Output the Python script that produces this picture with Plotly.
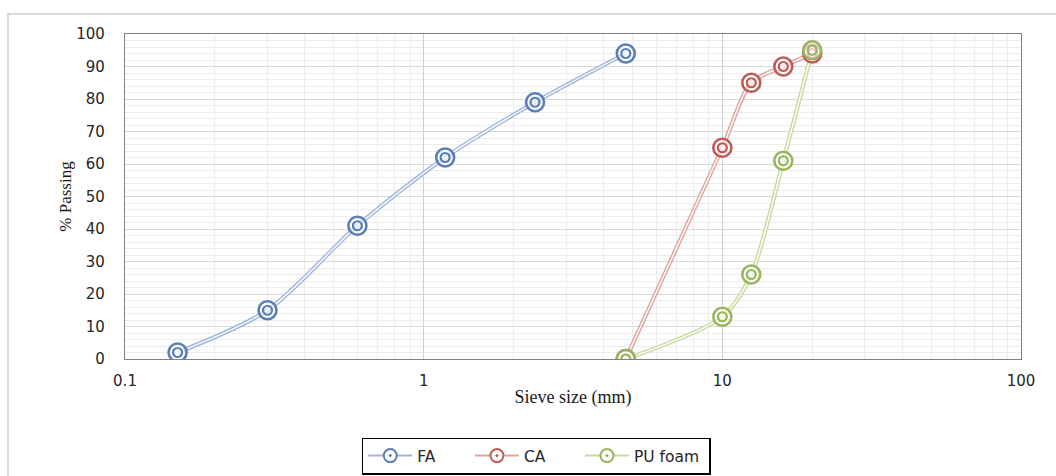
import plotly.graph_objects as go

# ---- data ----
fa_size = [0.15, 0.3, 0.6, 1.18, 2.36, 4.75]
fa_pass = [2, 15, 41, 62, 79, 94]
ca_size = [4.75, 10, 12.5, 16, 20]
ca_pass = [0, 65, 85, 90, 94]
pu_size = [4.75, 10, 12.5, 16, 20]
pu_pass = [0, 13, 26, 61, 95]

series_names = ["FA", "CA", "PU foam"]
line_colors = ["#9fb6db", "#e0a3a1", "#c6da9f"]
mark_colors = ["#5a7fb8", "#bf5a57", "#98b55c"]

W, H = 1056, 476
L, R, T, B = 125, 35, 34, 117
pw, ph = W - L - R, H - T - B

fig = go.Figure()
datasets = [(fa_size, fa_pass), (ca_size, ca_pass), (pu_size, pu_pass)]

for (xs, ys), lc, mc in zip(datasets, line_colors, mark_colors):
    fig.add_trace(go.Scatter(x=xs, y=ys, mode="lines", showlegend=False, hoverinfo="skip",
                             line=dict(color=lc, width=4.2, shape="spline", smoothing=0.8)))
    fig.add_trace(go.Scatter(x=xs, y=ys, mode="lines", showlegend=False, hoverinfo="skip",
                             line=dict(color="white", width=1.4, shape="spline", smoothing=0.8)))

for (xs, ys), mc in zip(datasets, mark_colors):
    fig.add_trace(go.Scatter(x=xs, y=ys, mode="markers", showlegend=False,
                             marker=dict(symbol="circle", size=18, color="rgba(255,255,255,0.6)",
                                         line=dict(color=mc, width=2.6))))
    fig.add_trace(go.Scatter(x=xs, y=ys, mode="markers", showlegend=False, hoverinfo="skip",
                             marker=dict(symbol="circle-open", size=9, color=mc,
                                         line=dict(color=mc, width=2.2))))

# legend entries
pad = "\u00a0" * 6
for i, (name, lc, mc) in enumerate(zip(series_names, line_colors, mark_colors)):
    label = name + (pad if i < len(series_names) - 1 else "\u00a0")
    fig.add_trace(go.Scatter(x=[None], y=[None], mode="lines+markers", name=label,
                             line=dict(color=lc, width=2),
                             marker=dict(symbol="circle-dot", size=13, color="white",
                                         line=dict(color=mc, width=2))))

# outer chart border
fig.add_shape(type="rect", xref="paper", yref="paper",
              x0=(8 - L) / pw, x1=(W + 20 - L) / pw,
              y0=(H - B - (H + 20)) / ph, y1=(H - B - 14) / ph,
              line=dict(color="#d9d9d9", width=2), fillcolor="rgba(0,0,0,0)", layer="below")

tickfont = dict(family="DejaVu Sans", size=15, color="#262626")
fig.update_layout(
    width=W, height=H,
    margin=dict(l=L, r=R, t=T, b=B, autoexpand=False),
    paper_bgcolor="white", plot_bgcolor="white",
    xaxis=dict(type="log", range=[-1, 2], automargin=False,
               tickvals=[0.1, 1, 10, 100], ticktext=["0.1", "1", "10", "100"],
               showgrid=True, gridcolor="#d0d0d0", gridwidth=1.3,
               minor=dict(showgrid=True, gridcolor="#ececec", gridwidth=1.3,
                          tickvals=[v * d for d in (0.1, 1, 10) for v in range(2, 10)]),
               showline=True, linecolor="#808080", linewidth=1.3, mirror=True,
               ticks="", tickfont=tickfont, ticklabelstandoff=8,
               title=dict(text="Sieve size (mm)", standoff=1,
                          font=dict(family="Liberation Serif", size=18, color="#1a1a1a")),
               zeroline=False),
    yaxis=dict(range=[0, 100], tickvals=list(range(0, 101, 10)), automargin=False,
               showgrid=True, gridcolor="#d9d9d9", gridwidth=1.3,
               minor=dict(showgrid=True, gridcolor="#ececec", gridwidth=1,
                          tickvals=[v for v in range(2, 100, 2) if v % 10]),
               showline=True, linecolor="#808080", linewidth=1.3, mirror=True,
               ticks="", tickfont=tickfont, ticklabelstandoff=16,
               title=dict(text="% Passing", standoff=0,
                          font=dict(family="Liberation Serif", size=17, color="#1a1a1a")),
               zeroline=False),
    legend=dict(orientation="h", x=0.459, xanchor="center",
                y=(H - B - 456) / ph, yanchor="middle",
                bordercolor="#000000", borderwidth=1.5, bgcolor="white",
                font=dict(family="DejaVu Sans", size=15.5, color="#262626"),
                itemwidth=44, tracegroupgap=0),
    showlegend=True,
)

fig.write_html("out.html", config={"displayModeBar": False},
               post_script="document.body.style.margin='0';")
